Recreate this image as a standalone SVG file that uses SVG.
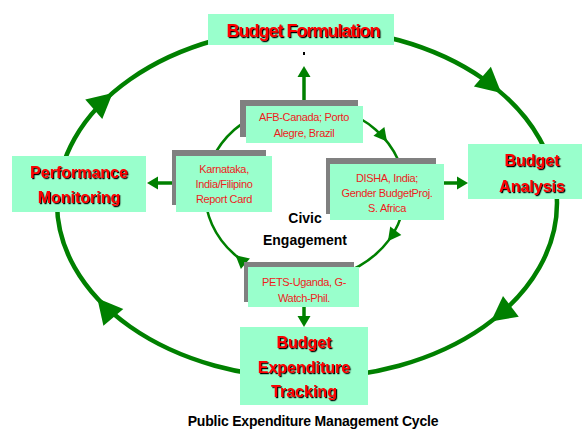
<svg xmlns="http://www.w3.org/2000/svg" xmlns:xlink="http://www.w3.org/1999/xlink" width="582" height="430" viewBox="0 0 582 430">
<style>
.box{fill:#99FFCC;}
.shd{fill:#808080;}
.big{font-family:"Liberation Sans",Arial,sans-serif;font-weight:bold;font-size:16px;fill:#FF0000;text-anchor:middle;filter:url(#ts);}
.sm{font-family:"Liberation Sans",Arial,sans-serif;font-size:11px;fill:#EE1C1C;text-anchor:middle;letter-spacing:-0.35px;}
.blk{font-family:"Liberation Sans",Arial,sans-serif;font-weight:bold;fill:#000;text-anchor:middle;}
.ring{fill:none;stroke:#008000;}
.ln{stroke:#008000;stroke-width:3.5;fill:none;}
.ah{fill:#008000;}
</style>
<defs>
<filter id="ts" x="-10%" y="-20%" width="120%" height="150%">
<feDropShadow dx="1.2" dy="1.2" stdDeviation="0" flood-color="#000" flood-opacity="1"/>
</filter>
<path id="ahb" d="M0,0 L-25,-13 L-25,13 Z"/>
<path id="ahs" d="M0,0 L-13,-7 L-13,7 Z"/>
<path id="aht" d="M0,0 L-11,-6.5 L-11,6.5 Z"/>
</defs>

<g id="connectors">
<ellipse class="ring" cx="307" cy="203" rx="250" ry="175" stroke-width="4.5"/>
<use xlink:href="#ahb" class="ah" transform="translate(501.3,92.9) rotate(40.8)"/>
<use xlink:href="#ahb" class="ah" transform="translate(491,321.5) rotate(142.7)"/>
<use xlink:href="#ahb" class="ah" transform="translate(97.3,298.3) rotate(-130)"/>
<use xlink:href="#ahb" class="ah" transform="translate(112.7,92.9) rotate(-40.8)"/>
<ellipse class="ring" cx="305" cy="192" rx="100" ry="88" stroke-width="2.5"/>
<use xlink:href="#ahs" class="ah" transform="translate(387,141.5) rotate(51.5)"/>
<use xlink:href="#ahs" class="ah" transform="translate(387.9,241.2) rotate(127.4)"/>
<use xlink:href="#ahs" class="ah" transform="translate(235.5,255.3) rotate(220.4)"/>
<line class="ln" x1="304" y1="102" x2="304" y2="76"/>
<use xlink:href="#aht" class="ah" transform="translate(304,66) rotate(-90)"/>
<line class="ln" x1="172" y1="183" x2="156" y2="183"/>
<use xlink:href="#aht" class="ah" transform="translate(147,183) rotate(180)"/>
<line class="ln" x1="444" y1="183" x2="458" y2="183"/>
<use xlink:href="#aht" class="ah" transform="translate(468,183)"/>
<line class="ln" x1="304" y1="307" x2="304" y2="317"/>
<use xlink:href="#aht" class="ah" transform="translate(304,327) rotate(90)"/>
<rect x="303" y="52" width="2" height="3" fill="#000"/>
</g>

<g id="budget-formulation">
<rect class="box" x="208" y="14" width="186" height="31"/>
<text class="big" x="303" y="37" style="font-size:18px;letter-spacing:-1px">Budget Formulation</text>
</g>

<g id="performance-monitoring">
<rect class="box" x="12" y="156" width="134" height="56"/>
<text class="big" x="79" y="178">Performance</text>
<text class="big" x="79" y="203">Monitoring</text>
</g>

<g id="budget-analysis">
<rect class="box" x="468" y="144" width="114" height="55"/>
<text class="big" x="532" y="166">Budget</text>
<text class="big" x="532" y="192">Analysis</text>
</g>

<g id="budget-expenditure-tracking">
<rect class="box" x="240" y="327" width="128" height="78"/>
<text class="big" x="304" y="348">Budget</text>
<text class="big" x="304" y="373">Expenditure</text>
<text class="big" x="304" y="397">Tracking</text>
</g>

<g id="afb">
<rect class="shd" x="240" y="100" width="118" height="37"/>
<rect class="box" x="246" y="106" width="117" height="37"/>
<text class="sm" x="304" y="121">AFB-Canada; Porto</text>
<text class="sm" x="304" y="137">Alegre, Brazil</text>
</g>

<g id="karnataka">
<rect class="shd" x="172" y="150" width="94" height="55"/>
<rect class="box" x="176" y="156" width="96" height="56"/>
<text class="sm" x="224" y="173">Karnataka,</text>
<text class="sm" x="224" y="188">India/Filipino</text>
<text class="sm" x="224" y="203">Report Card</text>
</g>

<g id="disha">
<rect class="shd" x="326" y="158" width="110" height="56"/>
<rect class="box" x="330" y="164" width="114" height="56"/>
<text class="sm" x="387" y="182">DISHA, India;</text>
<text class="sm" x="387" y="197">Gender BudgetProj.</text>
<text class="sm" x="387" y="212">S. Africa</text>
</g>

<g id="pets">
<rect class="shd" x="244" y="262" width="110" height="40"/>
<rect class="box" x="248" y="267" width="111" height="40"/>
<text class="sm" x="304" y="286">PETS-Uganda, G-</text>
<text class="sm" x="304" y="302">Watch-Phil.</text>
</g>

<g id="civic-engagement">
<text class="blk" x="305" y="223" style="font-size:14px">Civic</text>
<text class="blk" x="305" y="245" style="font-size:14px">Engagement</text>
</g>

<g id="title">
<text class="blk" x="313" y="426" style="font-size:14px;letter-spacing:-0.2px">Public Expenditure Management Cycle</text>
</g>
</svg>
